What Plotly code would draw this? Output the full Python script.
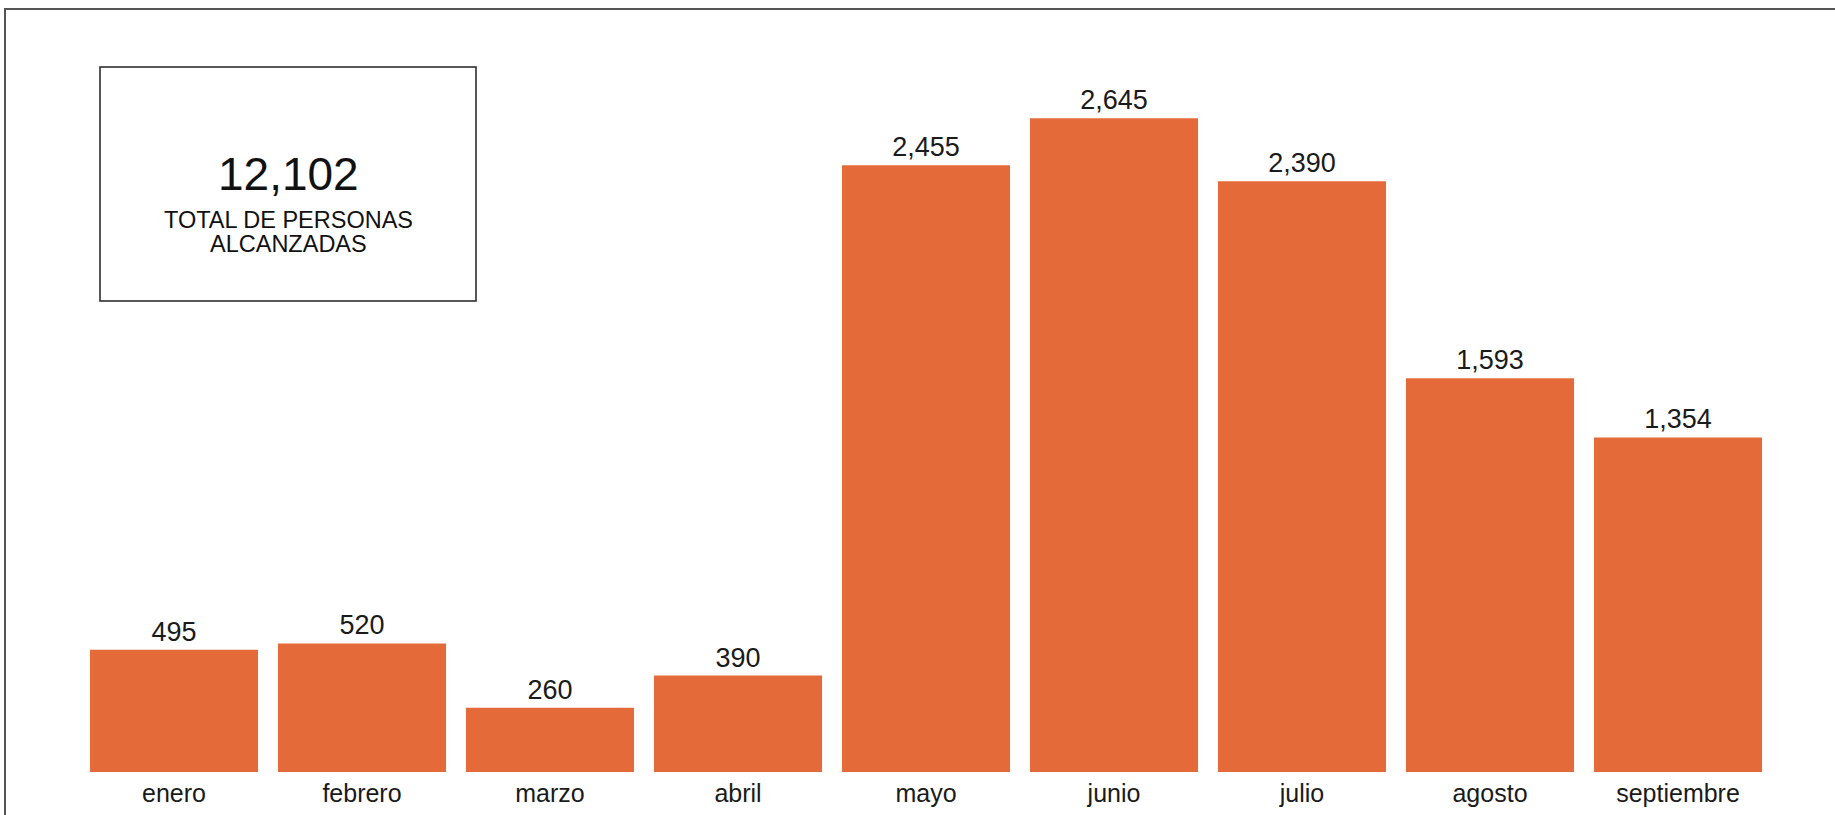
import plotly.graph_objects as go

meses = ["enero", "febrero", "marzo", "abril", "mayo", "junio", "julio", "agosto", "septiembre"]
personas = [495, 520, 260, 390, 2455, 2645, 2390, 1593, 1354]
total_valor = "12,102"
total_texto = ["TOTAL DE PERSONAS", "ALCANZADAS"]

W, H = 1835, 815
ML, MR, MT, MB = 80, 63, 40, 43
PW = W - ML - MR
PH = H - MT - MB


def px(x):
    return (x - ML) / PW


def py(y):
    return 1 - (y - MT) / PH


FONT = "Arial, Liberation Sans, sans-serif"
TXT = "#1a1a1a"

fig = go.Figure(
    go.Bar(
        x=meses,
        y=personas,
        marker=dict(color="#E46B39", line=dict(width=0)),
        text=personas,
        texttemplate="%{y:,}",
        textposition="outside",
        textfont=dict(family=FONT, size=27, color=TXT),
        cliponaxis=False,
        hoverinfo="skip",
    )
)

fig.update_layout(
    width=W,
    height=H,
    margin=dict(l=ML, r=MR, t=MT, b=MB, pad=0, autoexpand=False),
    paper_bgcolor="white",
    plot_bgcolor="white",
    bargap=0.106,
    showlegend=False,
    font=dict(family=FONT, color=TXT),
    xaxis=dict(
        showgrid=False,
        zeroline=False,
        showline=False,
        ticks="",
        automargin=False,
        tickfont=dict(family=FONT, size=25, color=TXT),
        ticklabelstandoff=4,
        range=[-0.5, len(meses) - 0.5],
    ),
    yaxis=dict(
        showgrid=False,
        zeroline=False,
        showline=False,
        showticklabels=False,
        automargin=False,
        ticks="",
        range=[0, 2962],
    ),
)

# outer frame (only top and left edges fall inside the picture)
fig.add_shape(type="rect", xref="paper", yref="paper", layer="below",
              x0=px(5), x1=px(W + 60), y0=py(9), y1=py(H + 60),
              line=dict(color="#555555", width=2), fillcolor="rgba(0,0,0,0)")

# total box
fig.add_shape(type="rect", xref="paper", yref="paper",
              x0=px(100), x1=px(476), y0=py(67), y1=py(301),
              line=dict(color="#222222", width=1.5), fillcolor="white")

cx = px(288)
fig.add_annotation(xref="paper", yref="paper", x=cx, y=py(174), text=total_valor,
                   showarrow=False, xanchor="center", yanchor="middle",
                   font=dict(family=FONT, size=46, color="#111111"))
fig.add_annotation(xref="paper", yref="paper", x=cx, y=py(220), text=total_texto[0],
                   showarrow=False, xanchor="center", yanchor="middle",
                   font=dict(family=FONT, size=23.5, color="#111111"))
fig.add_annotation(xref="paper", yref="paper", x=cx, y=py(244), text=total_texto[1],
                   showarrow=False, xanchor="center", yanchor="middle",
                   font=dict(family=FONT, size=23.5, color="#111111"))

fig.write_html(
    "out.html",
    config={"staticPlot": True},
    post_script=(
        "document.body.style.margin='0px';"
        "document.body.style.overflow='hidden';"
        "document.documentElement.style.overflow='hidden';"
    ),
)
